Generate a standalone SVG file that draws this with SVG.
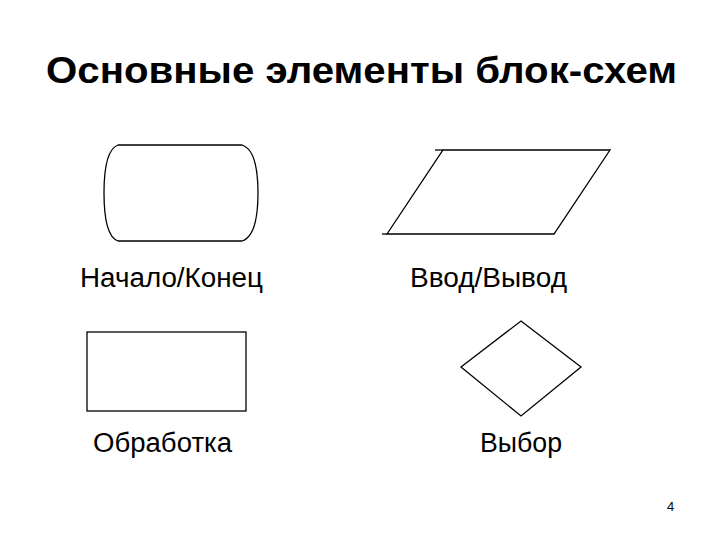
<svg xmlns="http://www.w3.org/2000/svg" width="720" height="540" viewBox="0 0 720 540">
<style>
.s{fill:#fff;stroke:#000;stroke-width:1.3}
.t{font-family:"Liberation Sans",Arial,sans-serif;fill:#000}
.l{font-size:27px}
</style>
<rect width="720" height="540" fill="#fff"/>
<text class="t" x="46" y="83" font-size="36" font-weight="bold" textLength="631" lengthAdjust="spacingAndGlyphs">Основные элементы блок-схем</text>
<g id="terminator">
<path class="s" d="M118,145 L242,145 Q258,150 258,193 Q258,236 242,241 L118,241 Q104,236 104,193 Q104,150 118,145 Z"/>
<text class="t l" x="80" y="287" textLength="183" lengthAdjust="spacingAndGlyphs">Начало/Конец</text>
</g>
<g id="io">
<path class="s" d="M443,150 L610,150 L554,234 L387,234 Z"/>
<line class="s" x1="435" y1="150" x2="443" y2="150"/>
<line class="s" x1="382" y1="234" x2="387" y2="234"/>
<text class="t l" x="410" y="287" textLength="157" lengthAdjust="spacingAndGlyphs">Ввод/Вывод</text>
</g>
<g id="process">
<rect class="s" x="87" y="332" width="159" height="79"/>
<text class="t l" x="93" y="452" textLength="139" lengthAdjust="spacingAndGlyphs">Обработка</text>
</g>
<g id="decision">
<path class="s" d="M521,321 L581,367 L521,416 L461,367 Z"/>
<text class="t l" x="480" y="452" textLength="82" lengthAdjust="spacingAndGlyphs">Выбор</text>
</g>
<text class="t" x="667" y="511" font-size="13">4</text>
<g id="connectors"/>
</svg>
